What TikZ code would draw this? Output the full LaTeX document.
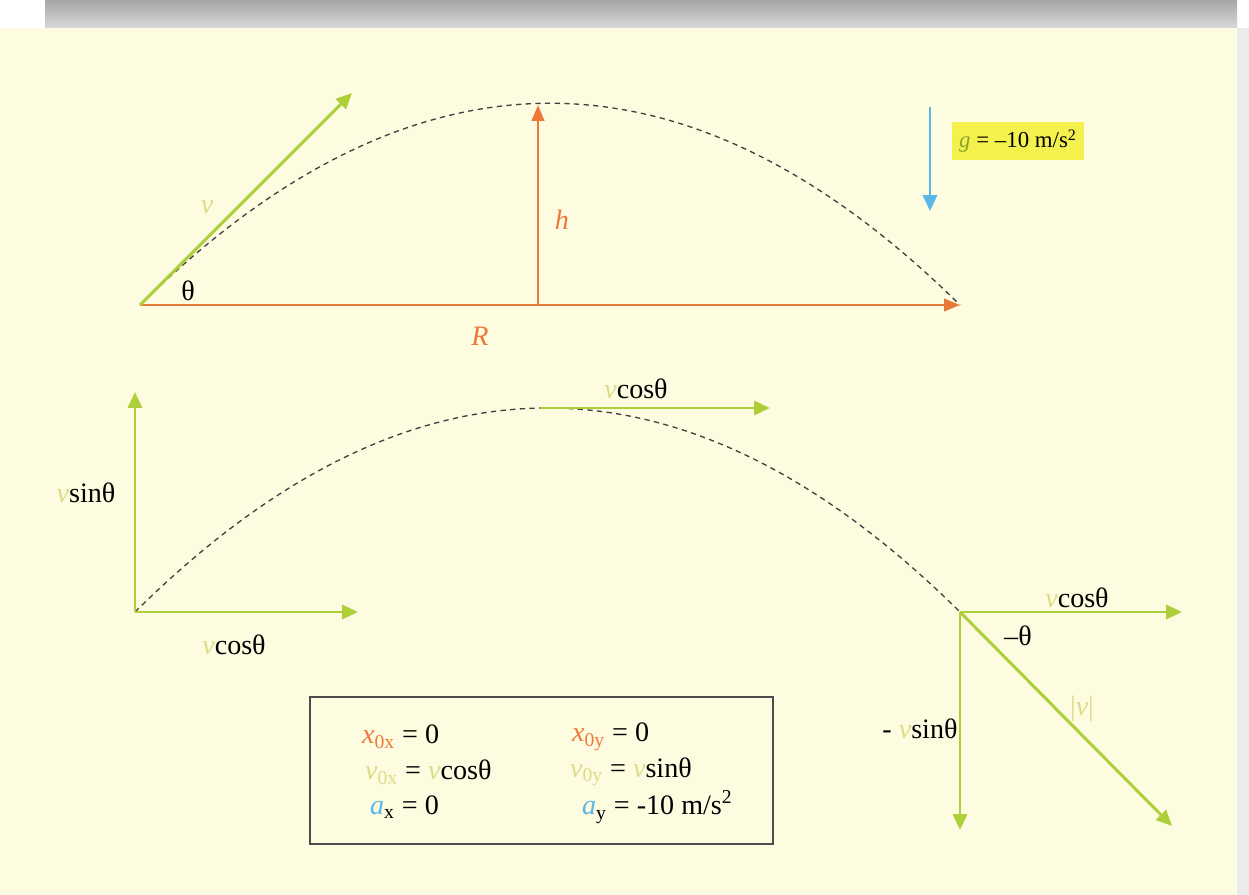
\documentclass[tikz,border=0pt]{standalone}
\usepackage{fontspec}
\setmainfont{Liberation Serif}
\usetikzlibrary{arrows.meta}
\usepackage{xcolor}
\definecolor{paper}{HTML}{FDFCE0}
\definecolor{vgreen}{HTML}{ADCF3A}
\definecolor{porange}{HTML}{EE7838}
\definecolor{gblue}{HTML}{5CB6E6}
\definecolor{paleV}{HTML}{DCDC86}
\definecolor{marker}{HTML}{F4F04E}
\tikzset{
  lbl/.style={font=\fontsize{16}{18}\selectfont, inner sep=1pt},
  vec/.style={vgreen, line width=1.7pt, -{Triangle[length=9pt,width=8pt]}},
  ovec/.style={porange, line width=1.5pt, -{Triangle[length=9pt,width=7pt]}},
  path/.style={black!75, dashed, line width=0.75pt, dash pattern=on 3pt off 2.5pt}
}
\newcommand{\pv}{\textcolor{paleV}{\textit{v}}}
\begin{document}
\begin{tikzpicture}[x=0.02cm, y=-0.02cm]
\useasboundingbox (0,0) rectangle (1249,895);
% paper
\fill [white] (0,0) rectangle (1249,895);
\fill [paper] (0,28) rectangle (1237,895);
\shade [top color=black!35, bottom color=black!15] (45,0) rectangle (1237,28);
\fill [black!8] (1237,28) rectangle (1249,895);

% top: launch
\coordinate (O1) at (140,305);
\coordinate (land1) at (960,305);
\coordinate (foot) at (538,305);
\coordinate (apex1) at (538,105);
\coordinate (vtip) at (352,93);
\draw [path] (O1) .. controls (413,36) and (687,36) .. (land1);
\draw [ovec, porange!85!brown] (O1) -- (land1);
\draw [ovec] (foot) -- (apex1);
\draw [vec] (O1) -- (vtip);
\node [lbl] (th1) at (188,291) {θ};
\node [lbl] (vlab) at (207,207) {\pv};
\node [lbl, text=porange] (hlab) at (562,220) {\textit{h}};
\node [lbl, text=porange] (rlab) at (480,336) {\textit{R}};

% gravity
\coordinate (gtop) at (930,107);
\coordinate (gbot) at (930,211);
\draw [gblue, line width=1.6pt, -{Triangle[length=9pt,width=8pt]}] (gtop) -- (gbot);
\node [fill=marker, font=\fontsize{13}{15}\selectfont, inner sep=4pt] (glab) at (1018,141)
  {\textcolor{vgreen!80!black}{\textit{g}} = –10 m/s\textsuperscript{2}};

% bottom: components
\coordinate (O2) at (135,612);
\coordinate (land2) at (960,612);
\coordinate (apex2) at (540,408);
\draw [path] (O2) .. controls (410,340) and (685,340) .. (land2);
\draw [vec] (O2) -- (135,392);
\draw [vec] (O2) -- (358,612);
\draw [vec] (apex2) -- (770,408);
\draw [vec] (land2) -- (1182,612);
\draw [vec] (land2) -- (960,830);
\draw [vec] (land2) -- (1172,826);
\node [lbl] (vsin0) at (86,493) {\pv sinθ};
\node [lbl] (vcos0) at (234,645) {\pv cosθ};
\node [lbl] (vcosT) at (636,389) {\pv cosθ};
\node [lbl] (vcosE) at (1077,598) {\pv cosθ};
\node [lbl] (thE) at (1018,636) {–θ};
\node [lbl] (vsinE) at (920,729) {- \pv sinθ};
\node [lbl, text=paleV] (vabs) at (1082,709) {|\textit{v}|};

% initial values
\draw [black!70, line width=0.8pt] (310,697) rectangle (773,844);
\foreach \x/\y/\txt in {
    360/737/{\textcolor{porange}{\textit{x}}\textsubscript{\textcolor{porange}{0x}} = 0},
    570/737/{\textcolor{porange}{\textit{x}}\textsubscript{\textcolor{porange}{0y}} = 0},
    363/772/{\pv\textsubscript{\textcolor{paleV}{0x}} = \pv cosθ},
    568/772/{\pv\textsubscript{\textcolor{paleV}{0y}} = \pv sinθ},
    368/807/{\textcolor{gblue}{\textit{a}}\textsubscript{x} = 0},
    580/807/{\textcolor{gblue}{\textit{a}}\textsubscript{y} = -10 m/s\textsuperscript{2}}
  }
  \node [lbl, anchor=west] at (\x,\y) {\txt};
\end{tikzpicture}
\end{document}
